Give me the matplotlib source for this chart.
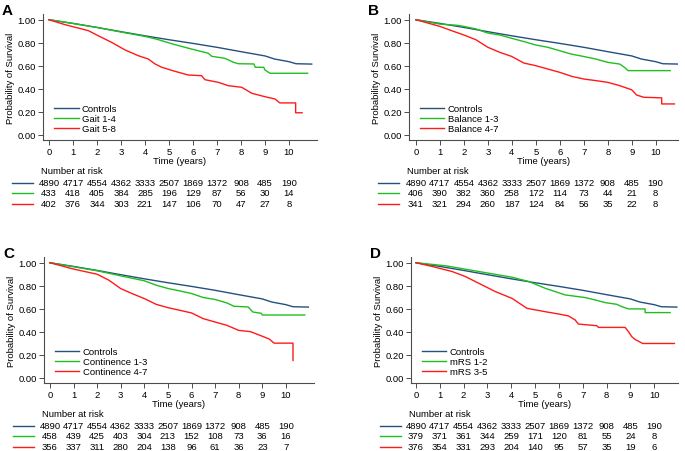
import matplotlib
matplotlib.use("Agg")
import matplotlib.pyplot as plt
from matplotlib.lines import Line2D
from matplotlib.transforms import blended_transform_factory

plt.rcParams['font.family'] = ['Liberation Sans', 'DejaVu Sans']

# controls (same in every panel)
t_ctrl = [0, 1, 2, 3, 4, 5, 5.5, 6, 7, 8, 9, 9.4, 10, 10.3, 10.95]
s_ctrl = [1.0, 0.968, 0.933, 0.896, 0.86, 0.826, 0.81, 0.794, 0.76, 0.722, 0.685, 0.658, 0.635, 0.617, 0.614]

# A - gait
t_gait1 = [0, 1, 2, 3, 4, 4.5, 5.25, 5.94, 6.64, 6.78, 7.33, 7.68, 7.89, 8.54, 8.6, 8.95, 9.0, 9.21, 10.78]
s_gait1 = [1, .968, .933, .893, .855, .83, .783, .745, .708, .682, .664, .63, .617, .615, .586, .586, .563, .534, .534]
t_gait2 = [0, .67, 1.64, 2.05, 2.61, 3.17, 3.72, 4.14, 4.42, 4.7, 5.25, 5.8, 6.36, 6.5, 7.06, 7.47, 8.03, 8.45,
           9.0, 9.42, 9.62, 10.28, 10.28, 10.55]
s_gait2 = [1, .957, .905, .861, .803, .737, .687, .658, .615, .586, .551, .519, .513, .478, .455, .426, .412, .36,
           .33, .31, .276, .276, .19, .19]

# B - balance
t_bal1 = [0, 1, 1.7, 2, 2.5, 3, 3.5, 4, 4.5, 5, 5.5, 6, 6.5, 7, 7.5, 8, 8.5, 8.7, 8.85, 10.6]
s_bal1 = [1, .962, .952, .942, .92, .884, .867, .838, .81, .78, .76, .73, .70, .68, .658, .629, .614, .585, .557, .557]
t_bal2 = [0, 1, 1.5, 2, 2.5, 3, 3.5, 4, 4.5, 5, 5.5, 6, 6.5, 7, 7.5, 8, 8.5, 9, 9.2, 9.5, 10.25, 10.25, 10.78]
s_bal2 = [1, .942, .904, .867, .826, .76, .716, .68, .623, .60, .571, .542, .507, .484, .47, .455, .426, .39, .345,
          .325, .32, .267, .267]

# C - continence
t_con1 = [0, 1, 2, 3, 4, 4.5, 5, 5.5, 6, 6.5, 7, 7.5, 7.8, 8.4, 8.6, 8.95, 9.0, 10.8]
s_con1 = [1, .965, .93, .886, .843, .805, .776, .755, .732, .697, .68, .65, .621, .615, .571, .56, .545, .545]
t_con2 = [0, 1, 2, 2.5, 3, 3.5, 4, 4.5, 5, 5.5, 6, 6.5, 7, 7.5, 8, 8.5, 9, 9.3, 9.5, 10.3, 10.3]
s_con2 = [1, .945, .90, .848, .775, .73, .688, .638, .609, .586, .563, .513, .484, .455, .411, .40, .36, .335,
          .30, .30, .149]

# D - mRS
t_mrs1 = [0, 1.23, 2.63, 4.03, 4.73, 5.42, 6.26, 7.1, 7.52, 7.94, 8.43, 8.64, 8.92, 9.62, 9.62, 10.67]
s_mrs1 = [1, .974, .924, .874, .837, .778, .72, .697, .676, .653, .638, .618, .598, .598, .566, .566]
t_mrs2 = [0, .67, 1.51, 2.07, 2.63, 3.33, 4.03, 4.66, 5.42, 5.98, 6.4, 6.68, 6.82, 7.59, 7.66, 8.78, 8.92, 9.06,
          9.2, 9.52, 10.85]
s_mrs2 = [1, .968, .924, .88, .822, .749, .69, .603, .574, .554, .537, .502, .466, .452, .437, .437, .40, .356,
          .332, .297, .297]

risk_ctrl = [4890, 4717, 4554, 4362, 3333, 2507, 1869, 1372, 908, 485, 190]
risk_gait = [[433, 418, 405, 384, 285, 196, 129, 87, 56, 30, 14],
             [402, 376, 344, 303, 221, 147, 106, 70, 47, 27, 8]]
risk_bal = [[406, 390, 382, 360, 258, 172, 114, 73, 44, 21, 8],
            [341, 321, 294, 260, 187, 124, 84, 56, 35, 22, 8]]
risk_con = [[458, 439, 425, 403, 304, 213, 152, 108, 73, 36, 16],
            [356, 337, 311, 280, 204, 138, 96, 61, 36, 23, 7]]
risk_mrs = [[379, 371, 361, 344, 259, 171, 120, 81, 55, 24, 8],
            [376, 354, 331, 293, 204, 140, 95, 57, 35, 19, 6]]

panels = [
    ('A', ['Gait 1-4', 'Gait 5-8'], [(t_gait1, s_gait1), (t_gait2, s_gait2)], risk_gait),
    ('B', ['Balance 1-3', 'Balance 4-7'], [(t_bal1, s_bal1), (t_bal2, s_bal2)], risk_bal),
    ('C', ['Continence 1-3', 'Continence 4-7'], [(t_con1, s_con1), (t_con2, s_con2)], risk_con),
    ('D', ['mRS 1-2', 'mRS 3-5'], [(t_mrs1, s_mrs1), (t_mrs2, s_mrs2)], risk_mrs),
]

c_ctrl = '#24507e'
c_grn = '#1fbf1f'
c_red = '#ff1a1a'
spine_c = '#4d4d4d'
fs = 6.8

W, H = 685, 452
# axes boxes in pixels: left, right, top, bottom
boxes = [(43, 317, 15, 141), (409, 678, 15, 141), (44, 314, 258, 384), (411, 678, 258, 384)]
xlims = [(-0.25, 11.17), (-0.29, 10.93), (-0.25, 11.19), (-0.21, 11.0)]

fig = plt.figure(figsize=(W / 100, H / 100), dpi=100)

for (letter, labels, curves, risk), (l, r, t, b), xl in zip(panels, boxes, xlims):
    ax = fig.add_axes([l / W, 1 - b / H, (r - l) / W, (b - t) / H])
    ax.plot(t_ctrl, s_ctrl, color=c_ctrl, lw=1.0, label='Controls')
    ax.plot(curves[0][0], curves[0][1], color=c_grn, lw=1.0, label=labels[0])
    ax.plot(curves[1][0], curves[1][1], color=c_red, lw=1.0, label=labels[1])
    ax.set_xlim(xl)
    ax.set_ylim(-0.047, 1.05)
    ax.set_xticks(range(11))
    ax.set_yticks([0, 0.2, 0.4, 0.6, 0.8, 1.0])
    ax.set_yticklabels(['%.2f' % v for v in [0, 0.2, 0.4, 0.6, 0.8, 1.0]])
    for s in ['top', 'right']:
        ax.spines[s].set_visible(False)
    for s in ['left', 'bottom']:
        ax.spines[s].set_color(spine_c)
        ax.spines[s].set_linewidth(0.8)
    ax.tick_params(labelsize=fs, length=3.5, width=0.7, color=spine_c, pad=1.5)
    ax.set_ylabel('Probability of Survival', fontsize=fs, labelpad=2)
    ax.set_xlabel('Time (years)', fontsize=fs, labelpad=0)
    ax.legend(loc='upper left', bbox_to_anchor=(0.04, 0.286), frameon=False, fontsize=fs,
              handlelength=2.6, handletextpad=0.35, labelspacing=0.1, borderpad=0, borderaxespad=0)
    fig.text((l - 41) / W, 1 - (t - 11) / H, letter, fontsize=11, fontweight='bold', va='top', ha='left')

    # number at risk table
    hpx = b - t
    wpx = r - l
    trans = blended_transform_factory(ax.transData, ax.transAxes)
    ax.text(-2 / wpx, -31 / hpx, 'Number at risk', transform=ax.transAxes, fontsize=fs, va='center', ha='left')
    rows = [risk_ctrl, risk[0], risk[1]]
    cols = [c_ctrl, c_grn, c_red]
    for k, (vals, c) in enumerate(zip(rows, cols)):
        yy = -(42.5 + 10.5 * k) / hpx
        ax.add_line(Line2D([-31 / wpx, -10 / wpx], [yy, yy], transform=ax.transAxes, color=c, lw=1.0, clip_on=False))
        for i, v in enumerate(vals):
            ax.text(i, yy, str(v), transform=trans, fontsize=fs, va='center', ha='center')

fig.savefig('out.png', dpi=100)
